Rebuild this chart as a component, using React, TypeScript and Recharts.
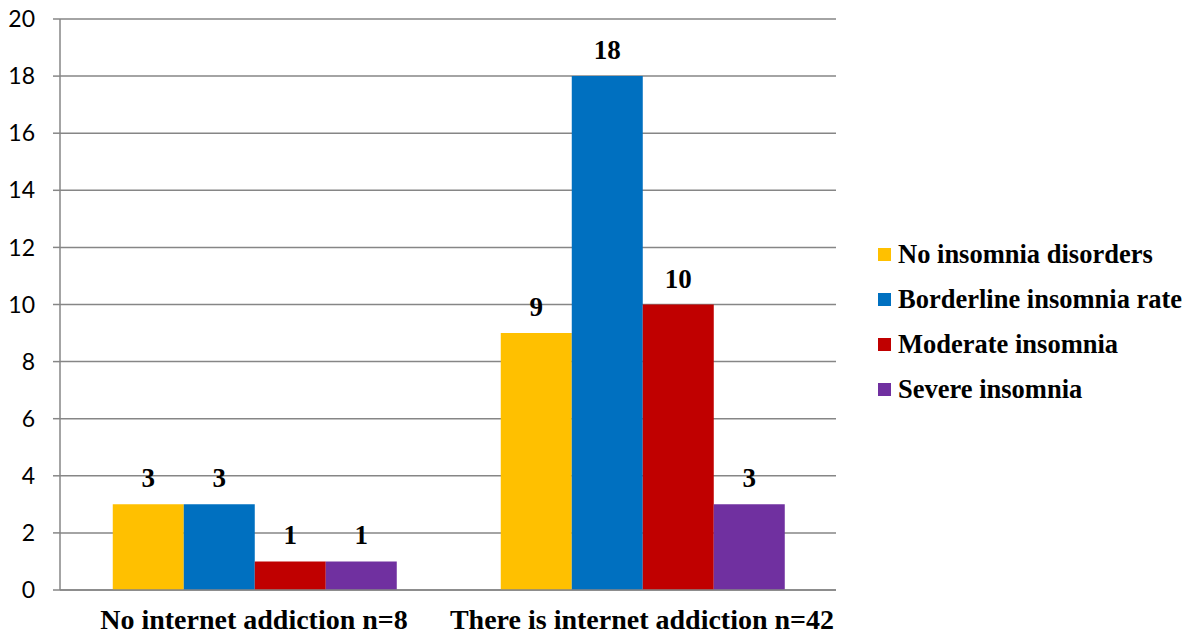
import { Bar, BarChart, CartesianGrid, LabelList, XAxis, YAxis } from "recharts";

const groups = ["No internet addiction n=8", "There is internet addiction n=42"];
const noInsomnia = [3, 9];
const borderline = [3, 18];
const moderate = [1, 10];
const severe = [1, 3];
const yTicks = [0, 2, 4, 6, 8, 10, 12, 14, 16, 18, 20];

const series = [
  { key: "none", name: "No insomnia disorders", color: "#FFC000" },
  { key: "border", name: "Borderline insomnia rate", color: "#0070C0" },
  { key: "moderate", name: "Moderate insomnia", color: "#C00000" },
  { key: "severe", name: "Severe insomnia", color: "#7030A0" },
];

const data = groups.map((g, i) => ({
  group: g,
  none: noInsomnia[i],
  border: borderline[i],
  moderate: moderate[i],
  severe: severe[i],
}));

const gray = "#868686";
const serif = "'Liberation Serif', 'Times New Roman', serif";

function LegendBox() {
  return (
    <div
      style={{
        position: "absolute",
        left: 878,
        top: 232,
        fontFamily: serif,
        fontWeight: "bold",
        fontSize: 26.5,
        color: "#000",
      }}
    >
      {series.map((s) => (
        <div key={s.key} style={{ display: "flex", alignItems: "center", height: 45 }}>
          <span style={{ width: 13, height: 13, background: s.color, marginRight: 7, display: "inline-block" }} />
          <span style={{ whiteSpace: "nowrap" }}>{s.name}</span>
        </div>
      ))}
    </div>
  );
}

export default function App() {
  return (
    <div style={{ position: "absolute", left: 0, top: 0, width: 1194, height: 635, background: "#fff" }}>
      <BarChart
        width={1194}
        height={635}
        data={data}
        margin={{ top: 19, right: 358, bottom: 0, left: 0 }}
        barCategoryGap="13.6%"
        barGap={0}
      >
        <CartesianGrid xAxisId="cat" vertical={false} stroke={gray} strokeWidth={1.5} />
        <XAxis
          xAxisId="edge"
          type="number"
          domain={[0, 2]}
          ticks={[0, 1, 2]}
          tick={false}
          tickSize={8}
          tickLine={{ stroke: gray, strokeWidth: 1.5 }}
          axisLine={false}
          height={0}
        />
        <XAxis
          xAxisId="cat"
          dataKey="group"
          height={45}
          tickSize={0}
          tickMargin={19}
          axisLine={{ stroke: gray, strokeWidth: 1.5 }}
          tick={{ fontFamily: serif, fontWeight: "bold", fontSize: 28, fill: "#000" }}
        />
        <YAxis
          domain={[0, 20]}
          ticks={yTicks}
          width={60}
          tickSize={7}
          tickMargin={18}
          axisLine={{ stroke: gray, strokeWidth: 1.5 }}
          tickLine={{ stroke: gray, strokeWidth: 1.5 }}
          tick={{ fontFamily: "Lato, sans-serif", fontSize: 23, fill: "#000" }}
        />
        {series.map((s) => (
          <Bar key={s.key} xAxisId="cat" dataKey={s.key} name={s.name} fill={s.color} isAnimationActive={false}>
            <LabelList
              dataKey={s.key}
              position="top"
              offset={17}
              style={{ fontFamily: serif, fontWeight: "bold", fontSize: 27, fill: "#000" }}
            />
          </Bar>
        ))}
      </BarChart>
      <LegendBox />
    </div>
  );
}
